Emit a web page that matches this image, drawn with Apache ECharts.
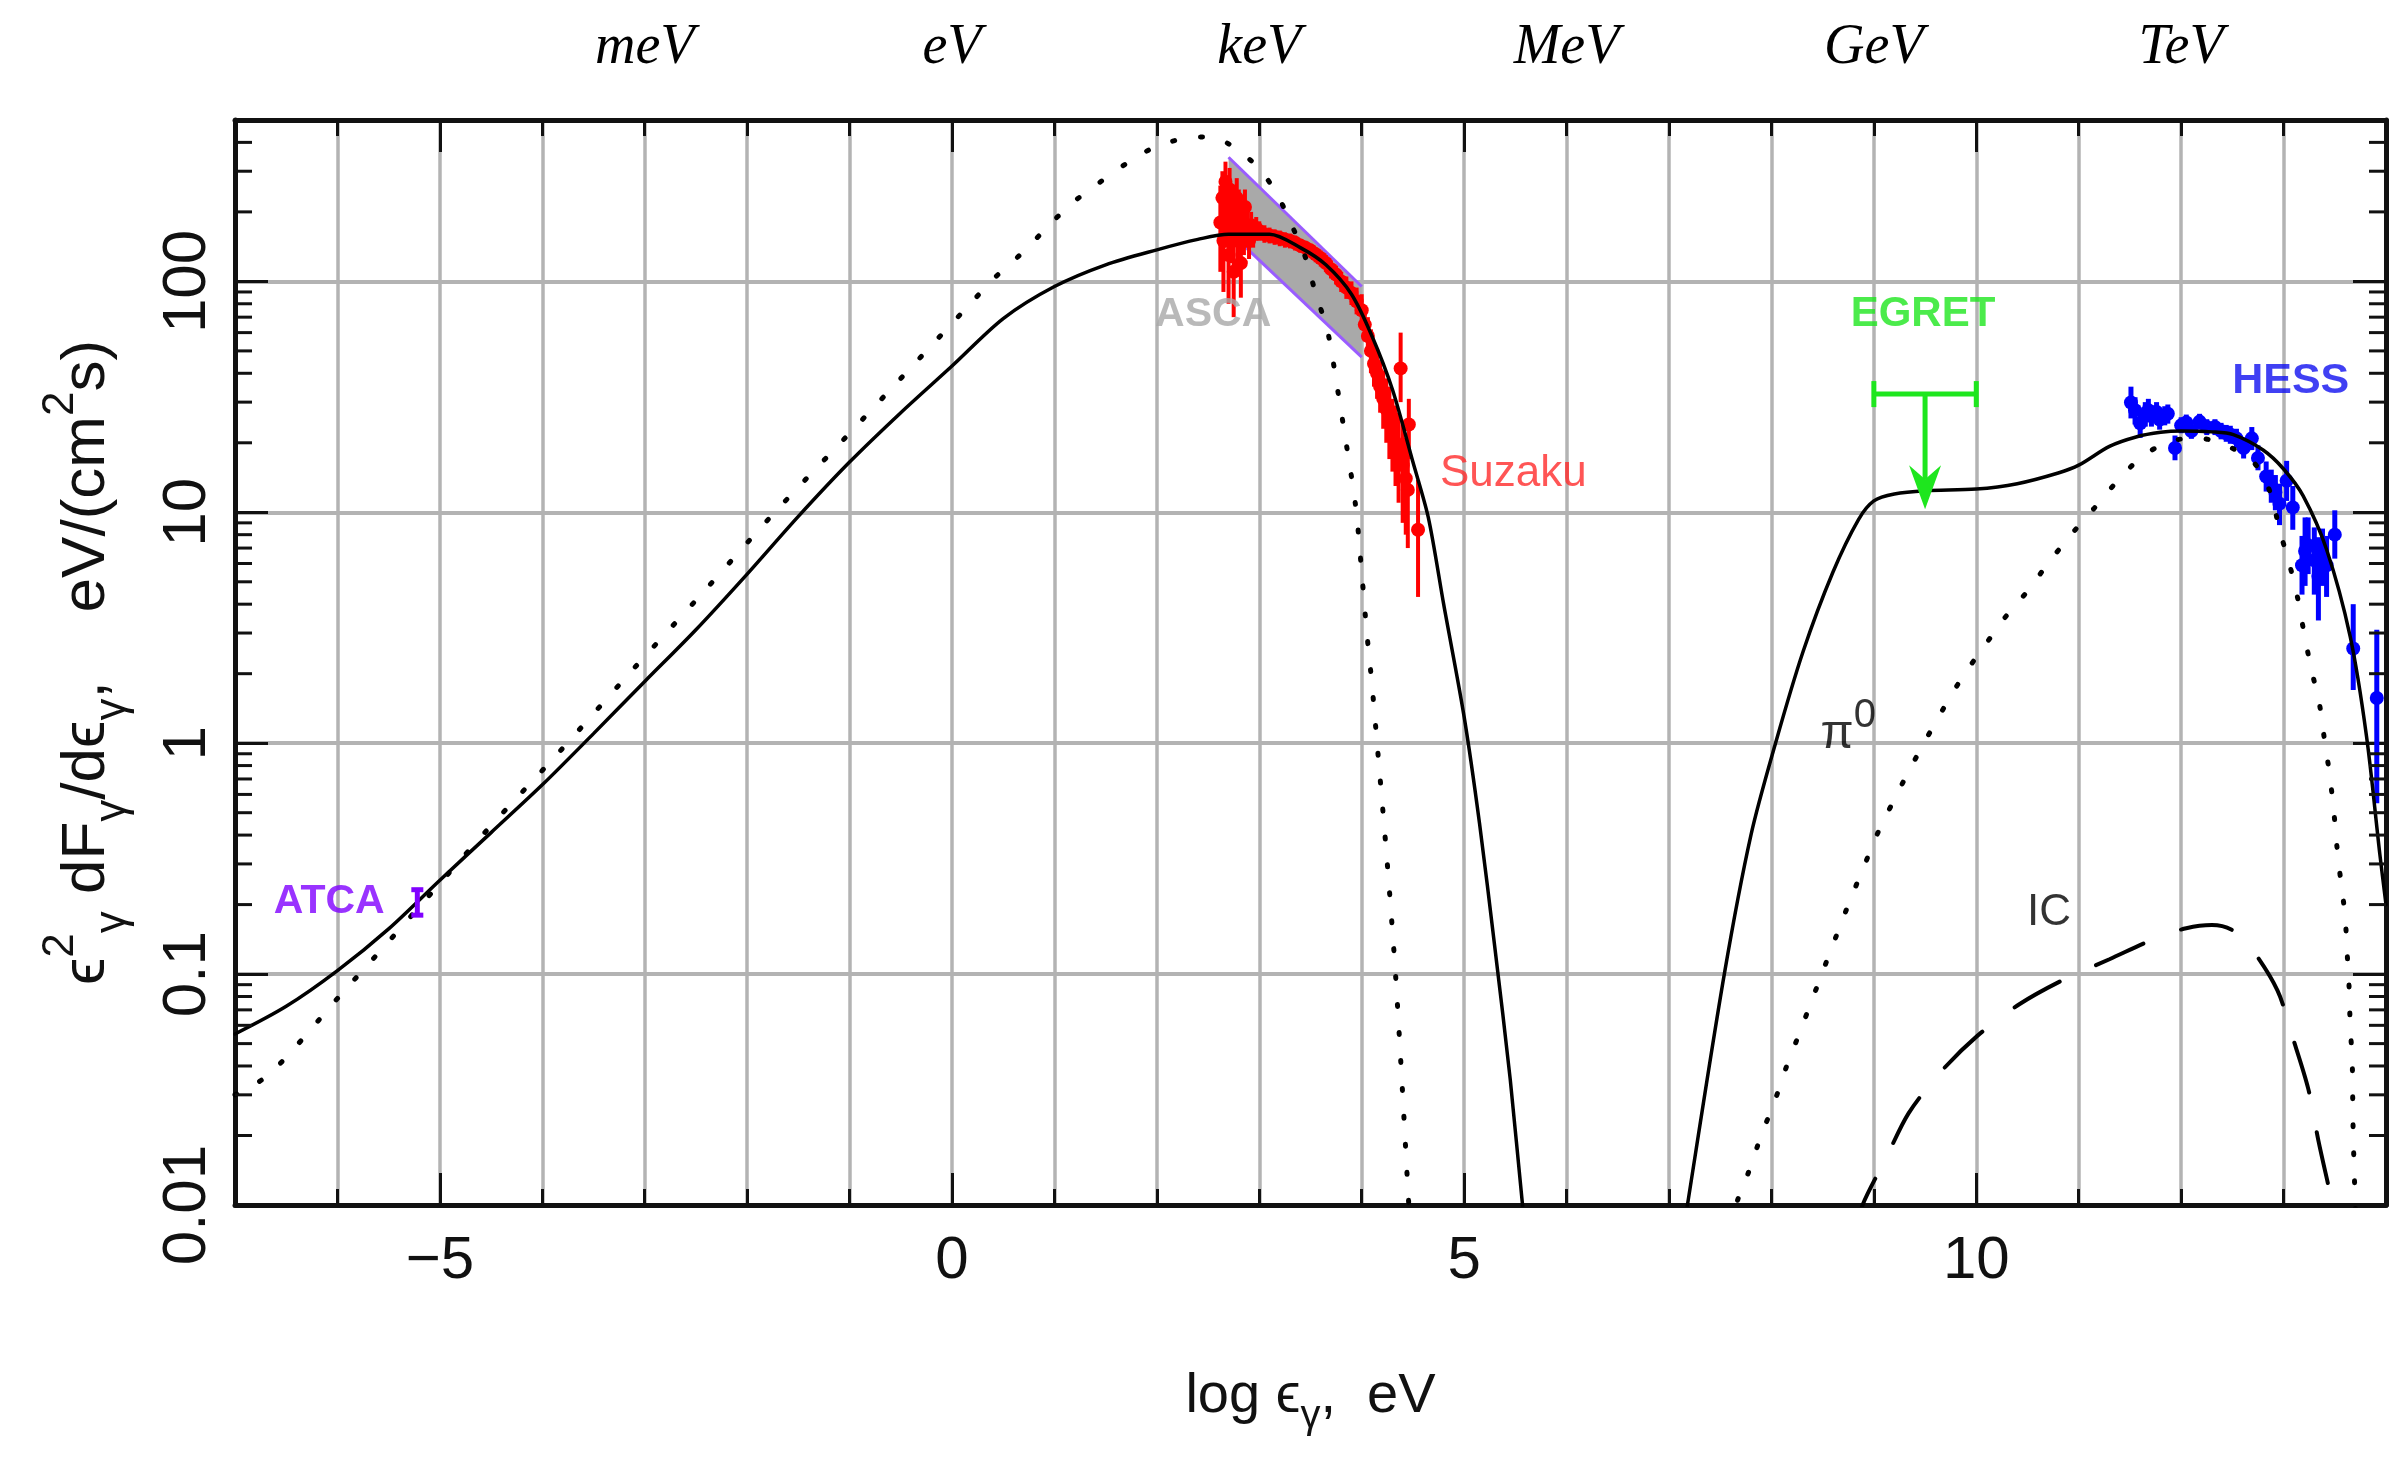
<!DOCTYPE html>
<html>
<head>
<meta charset="utf-8">
<script src="https://cdn.jsdelivr.net/npm/echarts@6/dist/echarts.min.js"></script>
<style>
  html, body { margin: 0; padding: 0; background: #ffffff; }
  #chart { width: 2399px; height: 1457px; }
</style>
</head>
<body>
<div id="chart"></div>
<script>
// ---- axis ranges and tick labels ----
const xRange = [-7, 14];
const yRange = [0.01, 500];
const bottomLabelValues = [-5, 0, 5, 10];
const topLabelValues = [-3, 0, 3, 6, 9, 12];
const topLabelNames = ['meV', 'eV', 'keV', 'MeV', 'GeV', 'TeV'];
const yMinorTickValues = [
  0.02, 0.03, 0.04, 0.05, 0.06, 0.07, 0.08, 0.09,
  0.2, 0.3, 0.4, 0.5, 0.6, 0.7, 0.8, 0.9,
  2, 3, 4, 5, 6, 7, 8, 9,
  20, 30, 40, 50, 60, 70, 80, 90,
  200, 300, 400
];

// ---- model curves: [log10 E (eV), E^2 dF/dE (eV cm^-2 s^-1)] ----
const totalModelLow = [
  [-7.0, 0.055], [-6.5, 0.0725], [-6.0, 0.1035], [-5.5, 0.157], [-5.0, 0.255],
  [-4.5, 0.41], [-4.0, 0.66], [-3.5, 1.1], [-3.0, 1.85], [-2.5, 3.1],
  [-2.0, 5.4], [-1.5, 9.6], [-1.0, 16.5], [-0.5, 27], [0.0, 43],
  [0.5, 69], [1.0, 95], [1.5, 118], [2.0, 137], [2.4, 152],
  [2.7, 160], [3.1, 160], [3.4, 140], [3.65, 118], [3.9, 88],
  [4.1, 58], [4.3, 34], [4.5, 16.5], [4.65, 9.5], [4.8, 4.0],
  [5.0, 1.3], [5.15, 0.45], [5.3, 0.13], [5.45, 0.035], [5.57, 0.01], [5.6, 0.008]
];
const totalModelHigh = [
  [7.15, 0.008], [7.18, 0.01], [7.54, 0.1], [7.8, 0.4], [8.04, 1.0],
  [8.31, 2.5], [8.6, 5.5], [8.85, 9.3], [9.0, 11.2], [9.2, 12.0],
  [9.5, 12.4], [10.0, 12.6], [10.4, 13.3], [10.8, 14.8], [11.0, 16.0],
  [11.3, 19.3], [11.56, 21.2], [11.8, 22.2], [12.0, 22.5], [12.3, 22.3],
  [12.51, 21.7], [12.8, 18.6], [13.0, 15.4], [13.19, 11.8], [13.42, 6.9],
  [13.65, 2.9], [13.81, 1.07], [13.94, 0.33], [14.0, 0.2]
];
const synchrotronAlt = [
  [-7.0, 0.03], [-6.66, 0.037], [-5.95, 0.083], [-5.49, 0.14], [-4.54, 0.42],
  [-3.84, 0.91], [-3.13, 2.05], [-2.45, 4.4], [-1.73, 10], [-1.0, 22],
  [-0.5, 38], [0.19, 81], [0.41, 103], [0.67, 131], [0.91, 168],
  [1.15, 214], [1.44, 268], [1.73, 330], [2.0, 385], [2.3, 418],
  [2.5, 422], [2.71, 392], [2.99, 311], [3.18, 235], [3.33, 170],
  [3.44, 131], [3.55, 89], [3.67, 60], [3.76, 35], [3.84, 21],
  [3.94, 10.7], [4.0, 5.5], [4.05, 3.0], [4.1, 1.8], [4.15, 1.0],
  [4.25, 0.3], [4.33, 0.1], [4.4, 0.03], [4.46, 0.01], [4.48, 0.008]
];
const pionDecay = [
  [7.6, 0.008], [7.67, 0.0105], [7.78, 0.014], [7.9, 0.02], [8.03, 0.028],
  [8.14, 0.039], [8.27, 0.055], [8.39, 0.076], [8.52, 0.108], [8.64, 0.149],
  [8.77, 0.21], [8.9, 0.29], [9.04, 0.41], [9.19, 0.56], [9.35, 0.77],
  [9.52, 1.06], [9.69, 1.44], [9.87, 1.95], [10.07, 2.6], [10.28, 3.5],
  [10.49, 4.5], [10.7, 6.0], [10.93, 8.05], [11.15, 10.4], [11.38, 13.7],
  [11.63, 17.6], [11.9, 20.3], [12.15, 21.0], [12.4, 19.8], [12.7, 16.6],
  [12.87, 12.2], [12.96, 8.4], [13.06, 5.9], [13.14, 4.2], [13.2, 3.0],
  [13.27, 2.1], [13.35, 1.48], [13.4, 1.03], [13.45, 0.73], [13.49, 0.51],
  [13.52, 0.36], [13.56, 0.25], [13.6, 0.18], [13.62, 0.125], [13.64, 0.087],
  [13.65, 0.061], [13.67, 0.042], [13.675, 0.029], [13.68, 0.02], [13.69, 0.014],
  [13.7, 0.01], [13.71, 0.008]
];
const inverseCompton = [
  [8.85, 0.008], [8.89, 0.01], [9.12, 0.016], [9.34, 0.025], [9.66, 0.038],
  [10.01, 0.054], [10.42, 0.074], [10.84, 0.094], [11.3, 0.116], [11.77, 0.144],
  [12.05, 0.158], [12.3, 0.163], [12.5, 0.155], [12.67, 0.132], [12.94, 0.085],
  [13.09, 0.053], [13.24, 0.032], [13.34, 0.019], [13.44, 0.012], [13.48, 0.01],
  [13.5, 0.008]
];

// ---- ASCA power-law band (upper-left, upper-right, lower-right, lower-left) ----
const ascaBand = [[2.7, 345], [4.0, 95], [4.0, 47], [2.7, 165]];

// ---- measurements: [log10 E, value, lower, upper] ----
const suzakuPoints = [
  [2.62, 180, 110, 260], [2.64, 230, 150, 300], [2.65, 150, 90, 220], [2.67, 270, 200, 330],
  [2.68, 200, 140, 260], [2.70, 130, 80, 190], [2.71, 250, 190, 310], [2.72, 170, 120, 230],
  [2.74, 210, 160, 260], [2.75, 110, 70, 160], [2.76, 190, 150, 240], [2.78, 230, 180, 280],
  [2.79, 150, 105, 200], [2.80, 200, 160, 250], [2.82, 120, 85, 160], [2.83, 180, 150, 220],
  [2.85, 160, 130, 200], [2.86, 210, 170, 250], [2.88, 170, 140, 200], [2.90, 150, 125, 180],
  [2.92, 175, 150, 200], [2.94, 160, 140, 185], [2.97, 170, 150, 190], [3.0, 165, 150, 182],
  [3.05, 160, 147, 175], [3.1, 158, 146, 171], [3.15, 156, 144, 168], [3.2, 154, 142, 166],
  [3.25, 152, 140, 163], [3.3, 150, 139, 161], [3.35, 147, 136, 158], [3.4, 143, 133, 153],
  [3.45, 140, 130, 150], [3.5, 136, 126, 146], [3.55, 131, 121, 141], [3.6, 126, 116, 136],
  [3.65, 120, 110, 130], [3.7, 113, 103, 123], [3.75, 107, 97, 117], [3.8, 100, 90, 110],
  [3.85, 94, 84, 105], [3.9, 89, 79, 100], [3.95, 82, 72, 94], [4.0, 75, 64, 88],
  [4.03, 65, 55, 77], [4.06, 58, 48, 70], [4.09, 50, 40, 62], [4.12, 44, 35, 55],
  [4.15, 40, 31, 51], [4.18, 35, 27, 45], [4.21, 31, 23, 41], [4.24, 28, 20, 38],
  [4.27, 25, 17, 35], [4.3, 22, 15, 31], [4.33, 20, 13, 29], [4.36, 18, 11, 27],
  [4.38, 42, 30, 60], [4.4, 16, 9, 24], [4.43, 14, 8, 21], [4.46, 24, 17, 31],
  [4.45, 12.5, 7, 19], [4.55, 8.4, 4.3, 13.8]
];
const hessPoints = [
  [11.51, 29.9, 25.5, 35], [11.55, 27.7, 24, 31.5], [11.6, 24.3, 21, 28], [11.65, 26.5, 23.5, 30],
  [11.68, 27.7, 24.5, 31], [11.71, 26.2, 23.5, 29], [11.76, 27.2, 24.5, 30], [11.79, 25.2, 22.8, 28],
  [11.84, 26.2, 23.8, 28.8], [11.87, 26.7, 24.2, 29.3], [11.94, 19.0, 16.8, 21.5], [12.0, 23.8, 22, 25.8],
  [12.05, 24.5, 22.6, 26.5], [12.1, 22.5, 20.8, 24.3], [12.18, 24.7, 22.8, 26.7], [12.25, 23.4, 21.6, 25.3],
  [12.33, 23.4, 21.6, 25.3], [12.39, 22.5, 20.7, 24.4], [12.44, 22.0, 20.2, 23.9], [12.48, 21.7, 19.8, 23.7],
  [12.54, 20.9, 19, 23], [12.61, 19.0, 17.1, 21.1], [12.69, 20.9, 18.6, 23.4], [12.75, 17.2, 15.2, 19.5],
  [12.83, 14.3, 12.3, 16.6], [12.88, 13.0, 11, 15.3], [12.92, 12.2, 10.2, 14.5], [12.96, 10.9, 8.8, 13.3],
  [13.03, 13.7, 11.2, 16.7], [13.09, 10.5, 8.4, 13.0], [13.18, 5.9, 4.4, 7.9], [13.21, 6.8, 4.8, 9.5],
  [13.24, 7.2, 5.4, 9.5], [13.3, 6.2, 4.4, 8.6], [13.34, 5.3, 3.4, 7.8], [13.38, 6.4, 4.8, 8.5],
  [13.42, 5.9, 4.3, 7.9], [13.5, 8.0, 6.3, 10.2], [13.68, 2.57, 1.7, 4.0], [13.91, 1.57, 0.55, 3.1]
];
const atcaPoints = [[-5.22, 0.205, 0.18, 0.232]];
// EGRET upper limit: [x from, x to, flux level, arrow tip]
const egretLimit = [[9.0, 10.0, 32.5, 10.3]];

// ---- annotations ----
const annotationNames = ['ATCA', 'ASCA', 'Suzaku', 'EGRET', 'HESS', 'pi0', 'IC'];
const annotationAnchors = [
  [-6.08, 0.205], [2.55, 72], [5.48, 14.6], [9.48, 72], [13.07, 36.9], [8.75, 1.17], [10.71, 0.184]
];

// ---- styling ----
const SANS = "'Liberation Sans', Arial, sans-serif";
const GRID_GREY = '#b3b3b3';
const FRAME = '#111111';

const annotationStyles = {
  ATCA:   { text: 'ATCA',   color: '#8000ff', fontFamily: SANS, fontWeight: 'bold', fontSize: 41 },
  ASCA:   { text: 'ASCA',   color: '#a8a8a8', fontFamily: SANS, fontWeight: 'bold', fontSize: 41 },
  Suzaku: { text: 'Suzaku', color: '#ff2a2a', fontFamily: SANS, fontWeight: 'normal', fontSize: 44 },
  EGRET:  { text: 'EGRET',  color: '#1ee61e', fontFamily: SANS, fontWeight: 'bold', fontSize: 42 },
  HESS:   { text: 'HESS',   color: '#1010f0', fontFamily: SANS, fontWeight: 'bold', fontSize: 43 },
  pi0:    { text: '{p|π}{s|0}', color: '#000', fontFamily: SANS, fontWeight: 'normal', fontSize: 46,
            rich: { p: { fontSize: 48, fontFamily: SANS, color: '#000', verticalAlign: 'bottom', lineHeight: 62 },
                    s: { fontSize: 40, fontFamily: SANS, color: '#000', verticalAlign: 'top', lineHeight: 40 } } },
  IC:     { text: 'IC',     color: '#000', fontFamily: SANS, fontWeight: 'normal', fontSize: 44 }
};

const chart = echarts.init(document.getElementById('chart'), null, { renderer: 'canvas' });

// error-bar renderer shared by the measurement sets
function errorBars(color, radius, lineWidth, capHalf) {
  return function (params, api) {
    const x = api.value(0), y = api.value(1), lo = api.value(2), hi = api.value(3);
    const c = api.coord([x, y]);
    const pLo = api.coord([x, lo]);
    const pHi = api.coord([x, hi]);
    const children = [
      { type: 'line', shape: { x1: pLo[0], y1: pLo[1], x2: pHi[0], y2: pHi[1] },
        style: { stroke: color, lineWidth: lineWidth } }
    ];
    if (capHalf) {
      children.push({ type: 'line', shape: { x1: c[0] - capHalf, y1: pLo[1], x2: c[0] + capHalf, y2: pLo[1] },
        style: { stroke: color, lineWidth: lineWidth } });
      children.push({ type: 'line', shape: { x1: c[0] - capHalf, y1: pHi[1], x2: c[0] + capHalf, y2: pHi[1] },
        style: { stroke: color, lineWidth: lineWidth } });
    }
    if (radius > 0) {
      children.push({ type: 'circle', shape: { cx: c[0], cy: c[1], r: radius }, style: { fill: color } });
    }
    return { type: 'group', children: children };
  };
}

function modelLine(name, data, lineType, width) {
  return {
    name: name, type: 'line', data: data, xAxisIndex: 0, yAxisIndex: 0,
    showSymbol: false, symbol: 'none', smooth: 0.3, clip: true, z: 5,
    lineStyle: { color: '#000', width: width, type: lineType, cap: 'round' }
  };
}

const xAxisCommon = { type: 'value', min: xRange[0], max: xRange[1], interval: 1 };
const yAxisCommon = { type: 'log', logBase: 10, min: yRange[0], max: yRange[1] };

const option = {
  animation: false,
  backgroundColor: '#ffffff',
  grid: { left: 235, right: 13, top: 120, bottom: 252, containLabel: false },
  xAxis: [
    Object.assign({}, xAxisCommon, {
      position: 'bottom',
      name: '{m|log ϵ}{sub|γ}{m|,  eV}',
      nameLocation: 'middle', nameGap: 152,
      nameTextStyle: {
        fontFamily: SANS, fontSize: 56, color: '#111',
        rich: {
          m: { fontFamily: SANS, fontSize: 56, color: '#111', lineHeight: 80, verticalAlign: 'middle' },
          sub: { fontFamily: SANS, fontSize: 40, color: '#111', lineHeight: 40, verticalAlign: 'bottom' }
        }
      },
      axisLine: { show: true, onZero: false, lineStyle: { color: FRAME, width: 5 } },
      axisTick: { show: true, inside: true, length: 16, lineStyle: { color: FRAME, width: 3 } },
      axisLabel: { show: false },
      splitLine: { show: true, lineStyle: { color: GRID_GREY, width: 3.5 } }
    }),
    Object.assign({}, xAxisCommon, {
      position: 'bottom',
      axisLine: { show: false, onZero: false },
      axisTick: { show: true, inside: true, length: 32, customValues: bottomLabelValues,
                  lineStyle: { color: FRAME, width: 3 } },
      axisLabel: {
        show: true, customValues: bottomLabelValues, margin: 26,
        fontFamily: SANS, fontSize: 60, color: '#111',
        formatter: function (v) { return v < 0 ? '\u2212' + Math.abs(v) : String(v); }
      },
      splitLine: { show: false }
    }),
    Object.assign({}, xAxisCommon, {
      position: 'top',
      axisLine: { show: true, onZero: false, lineStyle: { color: FRAME, width: 5 } },
      axisTick: { show: true, inside: true, length: 16, lineStyle: { color: FRAME, width: 3 } },
      axisLabel: { show: false },
      splitLine: { show: false }
    }),
    Object.assign({}, xAxisCommon, {
      position: 'top',
      axisLine: { show: false, onZero: false },
      axisTick: { show: true, inside: true, length: 32, customValues: bottomLabelValues,
                  lineStyle: { color: FRAME, width: 3 } },
      axisLabel: {
        show: true, customValues: topLabelValues, margin: 44,
        fontFamily: "'Liberation Serif', 'DejaVu Serif', serif", fontStyle: 'italic',
        fontSize: 56, color: '#000',
        formatter: function (v) {
          const i = topLabelValues.indexOf(Math.round(v));
          return i >= 0 ? topLabelNames[i] : '';
        }
      },
      splitLine: { show: false }
    })
  ],
  yAxis: [
    Object.assign({}, yAxisCommon, {
      position: 'left',
      name: '{m|ϵ}{sup|2}{sub|γ}{m| dF}{sub|γ}{m|/dϵ}{sub|γ}{m|,    eV/(cm}{sup|2}{m|s)}',
      nameLocation: 'middle', nameRotate: 90, nameGap: 100,
      nameTextStyle: {
        fontFamily: SANS, fontSize: 62, color: '#111',
        rich: {
          m: { fontFamily: SANS, fontSize: 62, color: '#111', lineHeight: 96, verticalAlign: 'middle' },
          sup: { fontFamily: SANS, fontSize: 44, color: '#111', lineHeight: 44, verticalAlign: 'top' },
          sub: { fontFamily: SANS, fontSize: 44, color: '#111', lineHeight: 44, verticalAlign: 'bottom' }
        }
      },
      axisLine: { show: true, onZero: false, lineStyle: { color: FRAME, width: 5 } },
      axisTick: { show: true, inside: true, length: 33, lineStyle: { color: FRAME, width: 3 } },
      axisLabel: {
        show: true, rotate: 90, margin: 16, showMaxLabel: false,
        fontFamily: SANS, fontSize: 62, color: '#111',
        formatter: function (v) { return String(Number(v.toPrecision(3))); }
      },
      splitLine: { show: true, lineStyle: { color: GRID_GREY, width: 4 } }
    }),
    Object.assign({}, yAxisCommon, {
      position: 'right',
      axisLine: { show: true, onZero: false, lineStyle: { color: FRAME, width: 5 } },
      axisTick: { show: true, inside: true, length: 33, lineStyle: { color: FRAME, width: 3 } },
      axisLabel: { show: false },
      splitLine: { show: false }
    })
  ],
  series: [
    {
      name: 'ASCA band', type: 'custom', xAxisIndex: 0, yAxisIndex: 0, z: 2, clip: true,
      data: ascaBand,
      renderItem: function (params, api) {
        if (params.dataIndex !== 0) return null;
        const pts = ascaBand.map(function (p) { return api.coord(p); });
        return {
          type: 'group', children: [
            { type: 'polygon', shape: { points: pts }, style: { fill: '#a9a9a9', stroke: null } },
            { type: 'line', shape: { x1: pts[0][0], y1: pts[0][1], x2: pts[1][0], y2: pts[1][1] },
              style: { stroke: '#9a5cff', lineWidth: 3 } },
            { type: 'line', shape: { x1: pts[3][0], y1: pts[3][1], x2: pts[2][0], y2: pts[2][1] },
              style: { stroke: '#9a5cff', lineWidth: 3 } }
          ]
        };
      }
    },
    {
      name: 'Suzaku', type: 'custom', xAxisIndex: 0, yAxisIndex: 0, z: 3, clip: true,
      data: suzakuPoints, renderItem: errorBars('#ff0000', 7, 4, 0)
    },
    modelLine('synchrotron (alt.)', synchrotronAlt, [2, 26], 5),
    modelLine('pi0 decay', pionDecay, [2, 26], 5),
    modelLine('inverse Compton', inverseCompton, [52, 40], 4),
    modelLine('total', totalModelLow, 'solid', 3.5),
    modelLine('total', totalModelHigh, 'solid', 3.5),
    {
      name: 'HESS', type: 'custom', xAxisIndex: 0, yAxisIndex: 0, z: 4, clip: true,
      data: hessPoints, renderItem: errorBars('#0000ff', 7, 5, 0)
    },
    {
      name: 'ATCA', type: 'custom', xAxisIndex: 0, yAxisIndex: 0, z: 6, clip: true,
      data: atcaPoints, renderItem: errorBars('#8000ff', 0, 5, 6)
    },
    {
      name: 'EGRET', type: 'custom', xAxisIndex: 0, yAxisIndex: 0, z: 6, clip: true,
      data: egretLimit,
      renderItem: function (params, api) {
        const x0 = api.value(0), x1 = api.value(1), y = api.value(2), tip = api.value(3);
        const xm = (x0 + x1) / 2;
        const a = api.coord([x0, y]), b = api.coord([x1, y]);
        const m = api.coord([xm, y]), t = api.coord([xm, tip]);
        const col = '#1ee61e', w = 5;
        return {
          type: 'group', children: [
            { type: 'line', shape: { x1: a[0], y1: a[1], x2: b[0], y2: b[1] }, style: { stroke: col, lineWidth: w } },
            { type: 'line', shape: { x1: a[0], y1: a[1] - 13, x2: a[0], y2: a[1] + 13 }, style: { stroke: col, lineWidth: w } },
            { type: 'line', shape: { x1: b[0], y1: b[1] - 13, x2: b[0], y2: b[1] + 13 }, style: { stroke: col, lineWidth: w } },
            { type: 'line', shape: { x1: m[0], y1: m[1], x2: t[0], y2: t[1] - 30 }, style: { stroke: col, lineWidth: w } },
            { type: 'polygon', shape: { points: [[t[0] - 16, t[1] - 44], [t[0], t[1] - 30], [t[0] + 16, t[1] - 44], [t[0], t[1]]] },
              style: { fill: col } }
          ]
        };
      }
    },
    {
      name: 'annotations', type: 'scatter', xAxisIndex: 0, yAxisIndex: 0, z: 8,
      symbolSize: 1, itemStyle: { color: 'rgba(0,0,0,0)' }, silent: true,
      data: annotationNames.map(function (n, i) {
        const s = annotationStyles[n];
        const lab = {
          show: true, position: 'inside', formatter: s.text,
          color: s.color, fontFamily: s.fontFamily, fontWeight: s.fontWeight, fontSize: s.fontSize
        };
        if (s.rich) lab.rich = s.rich;
        return { value: annotationAnchors[i], name: n, label: lab };
      })
    },
    {
      name: 'minor ticks', type: 'custom', xAxisIndex: 0, yAxisIndex: 0, z: 10, clip: false,
      data: yMinorTickValues.map(function (v) { return [xRange[0], v]; }),
      renderItem: function (params, api) {
        const v = api.value(1);
        const l = api.coord([xRange[0], v]);
        const r = api.coord([xRange[1], v]);
        return {
          type: 'group', children: [
            { type: 'line', shape: { x1: l[0], y1: l[1], x2: l[0] + 17, y2: l[1] }, style: { stroke: FRAME, lineWidth: 3 } },
            { type: 'line', shape: { x1: r[0] - 17, y1: r[1], x2: r[0], y2: r[1] }, style: { stroke: FRAME, lineWidth: 3 } }
          ]
        };
      }
    }
  ]
};

chart.setOption(option);
</script>
</body>
</html>
